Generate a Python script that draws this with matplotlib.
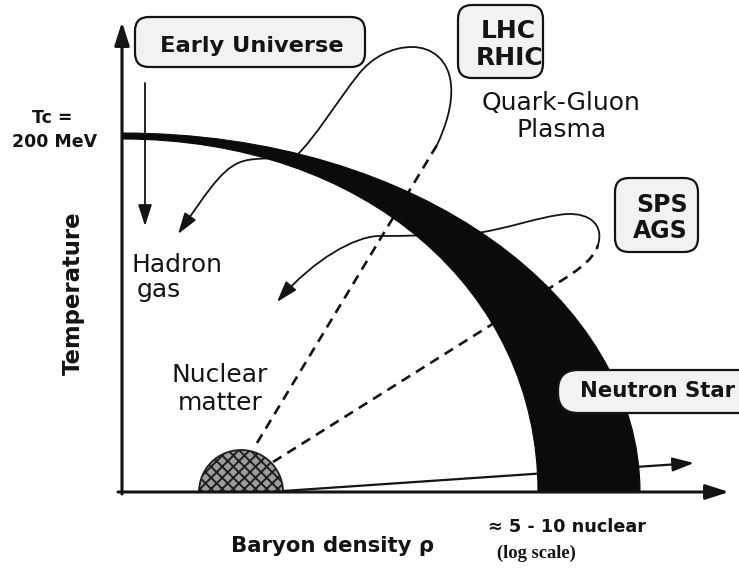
import matplotlib.pyplot as plt
from matplotlib.path import Path
from matplotlib.patches import PathPatch, FancyArrowPatch, FancyBboxPatch, Wedge

# Schematic QCD phase diagram, drawn in pixel coordinates (y grows downward)
W, H = 739, 568

# phase boundary band: cubic bezier control points
band_outer = [(122, 133), (420, 133), (640, 300), (640, 492)]
band_inner = [(538, 492), (538, 290), (365, 139), (122, 139)]

# nuclear matter blob on the density axis
blob_center = (241, 492)
blob_radius = 42

# LHC / RHIC trajectory: dashed straight part, then solid loop ending in an arrow
lhc_dash = [(257, 443), (437, 145)]
lhc_loop = [(437, 145),
            (445, 128), (453, 105), (451, 85),
            (449, 60), (432, 47), (412, 47),
            (392, 47), (372, 57), (358, 75),
            (338, 100), (315, 138), (297, 155),
            (282, 160), (265, 157), (248, 160),
            (225, 164), (212, 185), (178, 234)]

# SPS / AGS trajectory
sps_dash = [(273, 462),
            (364, 405), (454, 348), (545, 291),
            (572, 274), (593, 262), (598, 245)]
sps_loop = [(598, 245),
            (604, 225), (590, 213), (567, 214),
            (540, 216), (505, 230), (470, 234),
            (440, 235), (408, 236), (378, 236),
            (355, 237), (315, 258), (277, 302)]

# early universe (straight down) and neutron star (along the density axis)
early_arrow = [(145, 83), (145, 226)]
neutron_arrow = [(283, 491), (694, 463)]

# boxes: (x, y_top, width, height, rounding)
boxes = [(135, 17, 230, 50, 14),
         (458, 5, 85, 73, 14),
         (615, 178, 83, 74, 14),
         (558, 370, 200, 43, 20)]

ink = '#141414'


def bez(pts):
    return Path(pts, [Path.MOVETO] + [Path.CURVE4] * (len(pts) - 1))


fig = plt.figure(figsize=(W / 100, H / 100), dpi=100)
ax = fig.add_axes([0, 0, 1, 1])
ax.set_xlim(0, W)
ax.set_ylim(H, 0)
ax.axis('off')

# trajectories (under the band)
dash = (0, (3.8, 2.6))
ax.add_patch(PathPatch(Path(lhc_dash), fill=False, lw=1.9, ls=dash, ec=ink, zorder=2))
ax.add_patch(PathPatch(bez(sps_dash), fill=False, lw=1.9, ls=dash, ec=ink, zorder=2))
head = '-|>,head_length=1.3,head_width=0.42'
for pts in (lhc_loop, sps_loop):
    ax.add_patch(FancyArrowPatch(path=bez(pts), arrowstyle=head, mutation_scale=10,
                                 lw=1.3, color=ink, zorder=2))
ax.add_patch(FancyArrowPatch(early_arrow[0], early_arrow[1], arrowstyle=head,
                             mutation_scale=10, lw=1.3, color=ink, zorder=2,
                             shrinkA=0, shrinkB=0))
ax.add_patch(FancyArrowPatch(neutron_arrow[0], neutron_arrow[1], arrowstyle=head,
                             mutation_scale=10, lw=1.6, color=ink, zorder=2,
                             shrinkA=0, shrinkB=0))

# phase boundary band
verts = band_outer + band_inner + [band_outer[0]]
codes = ([Path.MOVETO] + [Path.CURVE4] * 3 + [Path.LINETO] + [Path.CURVE4] * 3
         + [Path.CLOSEPOLY])
ax.add_patch(PathPatch(Path(verts, codes), fc='#0b0b0b', ec='#0b0b0b', lw=0.8, zorder=3))

# nuclear matter blob
plt.rcParams['hatch.linewidth'] = 1.4
ax.add_patch(Wedge(blob_center, blob_radius, 180, 360, fc='#9c9c9c', ec='#1e1e1e',
                   hatch='xxx', lw=1.3, zorder=3))

# axes with arrow heads
axis_head = '-|>,head_length=1.4,head_width=0.45'
ax.add_patch(FancyArrowPatch((122, 494), (122, 22), arrowstyle=axis_head,
                             mutation_scale=10, lw=2.2, color=ink, zorder=4,
                             shrinkA=0, shrinkB=0))
ax.add_patch(FancyArrowPatch((118, 492), (729, 492), arrowstyle=axis_head,
                             mutation_scale=10, lw=2.2, color=ink, zorder=4,
                             shrinkA=0, shrinkB=0))

# rounded label boxes
for x, y, w, h, r in boxes:
    ax.add_patch(FancyBboxPatch((x, y), w, h, boxstyle=f'round,pad=0,rounding_size={r}',
                                fc='#f2f2f2', ec=ink, lw=1.6, zorder=4))

bold = dict(color=ink, fontweight='bold', zorder=5)
norm = dict(color=ink, zorder=5)
ax.text(252, 52, 'Early Universe', fontsize=16.2, ha='center', va='baseline', **bold)
ax.text(508, 38, 'LHC', fontsize=18, ha='center', va='baseline', **bold)
ax.text(510, 65, 'RHIC', fontsize=18, ha='center', va='baseline', **bold)
ax.text(662, 212, 'SPS', fontsize=17, ha='center', va='baseline', **bold)
ax.text(660, 238, 'AGS', fontsize=17, ha='center', va='baseline', **bold)
ax.text(580, 397, 'Neutron Star', fontsize=15.3, ha='left', va='baseline', **bold)
ax.text(561, 110, 'Quark-Gluon', fontsize=18, ha='center', va='baseline', **norm)
ax.text(562, 137, 'Plasma', fontsize=18, ha='center', va='baseline', **norm)
ax.text(132, 272, 'Hadron', fontsize=18, ha='left', va='baseline', **norm)
ax.text(137, 297, 'gas', fontsize=18, ha='left', va='baseline', **norm)
ax.text(220, 382, 'Nuclear', fontsize=18, ha='center', va='baseline', **norm)
ax.text(220, 410, 'matter', fontsize=18, ha='center', va='baseline', **norm)
ax.text(52, 123, 'Tc =', fontsize=12.5, ha='center', va='baseline', **bold)
ax.text(55, 147, '200 MeV', fontsize=12.5, ha='center', va='baseline', **bold)
ax.text(73, 293, 'Temperature', fontsize=16.4, rotation=90, ha='center', va='center', **bold)
ax.text(333, 552, 'Baryon density ρ', fontsize=15.3, ha='center', va='baseline', **bold)
ax.text(488, 532, '≈ 5 - 10 nuclear', fontsize=12.7, ha='left', va='baseline', **bold)
ax.text(497, 558, '(log scale)', fontsize=13.3, ha='left', va='baseline',
        family='Liberation Serif', **bold)

fig.savefig('out.png', dpi=100)
